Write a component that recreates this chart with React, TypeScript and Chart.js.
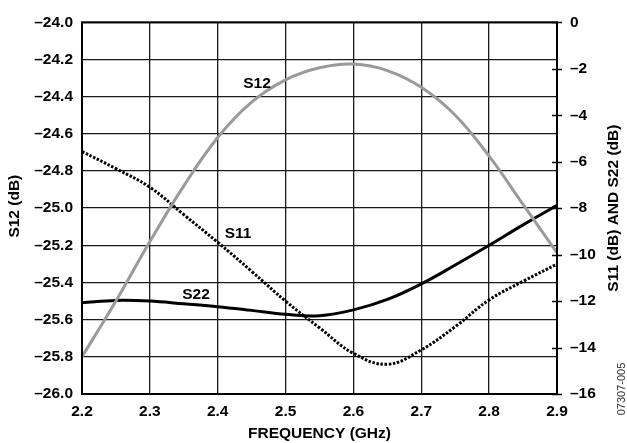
import React, { useEffect, useRef } from "react";
import { Chart, registerables } from "chart.js";

Chart.register(...registerables);

// Frequency sweep (GHz)
const frequencies = [2.2, 2.25, 2.3, 2.35, 2.4, 2.45, 2.5, 2.55, 2.6, 2.65, 2.7, 2.75, 2.8, 2.85, 2.9];

// Reverse isolation S12 (dB), left axis
const s12 = [-25.8, -25.5, -25.18, -24.88, -24.62, -24.43, -24.31, -24.245, -24.225, -24.26, -24.35, -24.5, -24.72, -24.98, -25.24];

// Input return loss S11 (dB), right axis
const s11 = [-5.56, -6.3, -7.1, -8.28, -9.47, -10.72, -12.0, -13.15, -14.25, -14.72, -14.1, -13.1, -11.95, -11.15, -10.41];

// Output return loss S22 (dB), right axis
const s22 = [-12.07, -11.97, -12.0, -12.12, -12.24, -12.4, -12.57, -12.63, -12.38, -11.93, -11.26, -10.45, -9.6, -8.72, -7.88];

// Axis ranges
const freqRange = [2.2, 2.9];
const s12Range = [-26, -24];
const returnLossRange = [-16, 0];

// Curve name tags (data coordinates)
const curveTags = [
  { text: "S12", x: 2.458, y: -24.33, axis: "yL" },
  { text: "S11", x: 2.43, y: -9.12, axis: "yR" },
  { text: "S22", x: 2.368, y: -11.72, axis: "yR" },
];

const FONT = '"Liberation Sans", Arial, Helvetica, sans-serif';
const FONT_SIZE = 15.5;
const TICK_FONT = { family: FONT, size: FONT_SIZE, weight: "bold" as const };

const dashMinus = (v: number, digits: number) =>
  v < 0 ? "\u2013" + Math.abs(v).toFixed(digits) : v.toFixed(digits);

const toPoints = (ys: number[]) => frequencies.map((f, i) => ({ x: f, y: ys[i] }));

const decorations = {
  id: "decorations",
  afterDraw(chart: any) {
    const { ctx, chartArea: a, scales } = chart;
    ctx.save();

    // plot frame
    ctx.strokeStyle = "#000";
    ctx.lineWidth = 2;
    ctx.strokeRect(a.left, a.top, a.right - a.left, a.bottom - a.top);

    // tick marks crossing the right axis
    const yR = scales.yR;
    ctx.lineWidth = 1.5;
    yR.ticks.forEach((t: any) => {
      const py = Math.round(yR.getPixelForValue(t.value)) + 0.5;
      ctx.beginPath();
      ctx.moveTo(a.right - 5, py);
      ctx.lineTo(a.right + 5, py);
      ctx.stroke();
    });

    // curve names
    ctx.fillStyle = "#000";
    ctx.font = `bold ${FONT_SIZE}px ${FONT}`;
    ctx.textAlign = "center";
    ctx.textBaseline = "middle";
    curveTags.forEach((tag) => {
      const px = scales.x.getPixelForValue(tag.x);
      const py = scales[tag.axis].getPixelForValue(tag.y);
      ctx.fillText(tag.text, px, py);
    });

    // axis titles
    const midY = (a.top + a.bottom) / 2;
    ctx.fillText("FREQUENCY (GHz)", (a.left + a.right) / 2, 434);

    ctx.save();
    ctx.translate(15, midY - 2);
    ctx.rotate(-Math.PI / 2);
    ctx.fillText("S12 (dB)", 0, 0);
    ctx.restore();

    ctx.save();
    ctx.translate(614, midY);
    ctx.rotate(-Math.PI / 2);
    ctx.fillText("S11 (dB) AND S22 (dB)", 0, 0);
    ctx.restore();

    // figure number
    ctx.save();
    ctx.translate(622, 389);
    ctx.rotate(-Math.PI / 2);
    ctx.font = `11px ${FONT}`;
    ctx.fillStyle = "#333";
    ctx.fillText("07307-005", 0, 0);
    ctx.restore();

    ctx.restore();
  },
};

export default function App() {
  const canvasRef = useRef<HTMLCanvasElement | null>(null);

  useEffect(() => {
    if (!canvasRef.current) return;
    const gridStyle = { color: "#1a1a1a", lineWidth: 1.3, drawTicks: false };
    const chart = new Chart(canvasRef.current, {
      type: "line",
      data: {
        datasets: [
          {
            label: "S12",
            data: toPoints(s12),
            yAxisID: "yL",
            borderColor: "#9a9a9a",
            borderWidth: 3,
            pointRadius: 0,
            tension: 0.4,
          },
          {
            label: "S22",
            data: toPoints(s22),
            yAxisID: "yR",
            borderColor: "#000",
            borderWidth: 3,
            pointRadius: 0,
            tension: 0.4,
          },
          {
            label: "S11",
            data: toPoints(s11),
            yAxisID: "yR",
            borderColor: "#000",
            borderWidth: 3,
            borderDash: [2.5, 1.6],
            pointRadius: 0,
            tension: 0.4,
          },
        ],
      },
      options: {
        responsive: false,
        animation: false,
        devicePixelRatio: 1,
        layout: { padding: { top: 15, left: 0, right: 0, bottom: 0 } },
        plugins: { legend: { display: false }, tooltip: { enabled: false } },
        scales: {
          x: {
            type: "linear",
            min: freqRange[0],
            max: freqRange[1],
            grid: gridStyle,
            border: { display: false },
            ticks: {
              stepSize: 0.1,
              color: "#000",
              font: TICK_FONT,
              padding: 8,
              maxRotation: 0,
              callback: (v: any) => Number(v).toFixed(1),
            },
            afterFit: (s: any) => {
              s.height = 49;
            },
          },
          yL: {
            position: "left",
            min: s12Range[0],
            max: s12Range[1],
            grid: gridStyle,
            border: { display: false },
            ticks: {
              stepSize: 0.2,
              color: "#000",
              font: TICK_FONT,
              padding: 9,
              callback: (v: any) => dashMinus(Number(v), 1),
            },
            afterFit: (s: any) => {
              s.width = 82;
            },
          },
          yR: {
            position: "right",
            min: returnLossRange[0],
            max: returnLossRange[1],
            grid: { drawOnChartArea: false, drawTicks: false },
            border: { display: false },
            ticks: {
              stepSize: 2,
              color: "#000",
              font: TICK_FONT,
              padding: 13,
              callback: (v: any) => dashMinus(Number(v), 0),
            },
            afterFit: (s: any) => {
              s.width = 70;
            },
          },
        },
      },
      plugins: [decorations],
    });
    return () => chart.destroy();
  }, []);

  return (
    <div style={{ position: "fixed", left: 0, top: 0, width: 627, height: 443, background: "#fff" }}>
      <canvas ref={canvasRef} width={627} height={443} style={{ width: 627, height: 443, display: "block" }} />
    </div>
  );
}
